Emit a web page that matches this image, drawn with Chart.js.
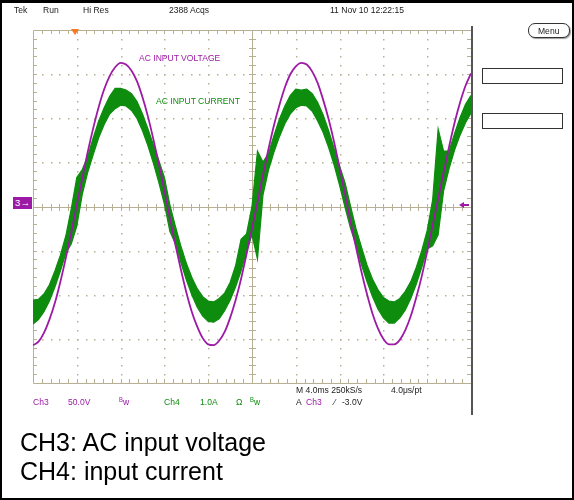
<!DOCTYPE html>
<html><head><meta charset="utf-8">
<script src="https://cdn.jsdelivr.net/npm/chart.js@4"></script>
<style>
html,body{margin:0;padding:0;background:#fff;}
#wrap{position:relative;width:574px;height:500px;overflow:hidden;font-family:"Liberation Sans",Arial,sans-serif;background:#fff;}
canvas{position:absolute;left:0;top:0;}
.t{position:absolute;font-size:9.5px;line-height:10px;white-space:nowrap;color:#1a1a1a;transform:scaleX(0.9);transform-origin:0 0;}
.p{color:#9c1aa6;}
.g{color:#0e8c0e;}
.bw sup{font-size:6.5px;vertical-align:3px;line-height:0;}
.cap{position:absolute;left:20px;font-family:"Liberation Sans",Arial,sans-serif;font-size:25px;line-height:28px;color:#000;white-space:nowrap;}
#frame{position:absolute;left:0;top:0;width:574px;height:500px;box-sizing:border-box;border:2px solid #000;border-top:3px solid #000;pointer-events:none;}
.box{position:absolute;border:1px solid #333;background:#fff;box-sizing:border-box;}
</style></head>
<body>
<div id="wrap">
<canvas id="c" width="574" height="500"></canvas>
<div class="t" style="left:14px;top:5px">Tek</div>
<div class="t" style="left:43px;top:5px">Run</div>
<div class="t" style="left:83px;top:5px">Hi Res</div>
<div class="t" style="left:169px;top:5px">2388 Acqs</div>
<div class="t" style="left:330px;top:5px">11 Nov 10 12:22:15</div>
<div class="box" style="left:528px;top:23px;width:42px;height:15px;border-radius:7px;box-shadow:1px 1px 1px #999;"></div>
<div class="t" style="left:538px;top:26px;">Menu</div>
<div class="box" style="left:482px;top:68px;width:81px;height:16px"></div>
<div class="box" style="left:482px;top:113px;width:81px;height:16px"></div>
<div style="position:absolute;left:71px;top:29px;width:0;height:0;border-left:4px solid transparent;border-right:4px solid transparent;border-top:6px solid #f47a20"></div>
<div style="position:absolute;left:13px;top:197px;width:19px;height:12px;background:#9c1aa6;color:#fff;font-size:9.5px;line-height:12px;text-align:center;font-family:'Liberation Sans',Arial,sans-serif">3&#8594;</div>
<div style="position:absolute;left:459px;top:202px;width:0;height:0;border-top:3px solid transparent;border-bottom:3px solid transparent;border-right:5px solid #9c1aa6"></div>
<div style="position:absolute;left:463px;top:204px;width:6px;height:2px;background:#9c1aa6"></div>
<div style="position:absolute;left:471px;top:26px;width:2px;height:389px;background:#555"></div>
<div class="t p" style="left:139px;top:53px">AC INPUT VOLTAGE</div>
<div class="t g" style="left:156px;top:96px">AC INPUT CURRENT</div>
<div class="t" style="left:296px;top:385px">M 4.0ms 250kS/s</div>
<div class="t" style="left:391px;top:385px">4.0&#956;s/pt</div>
<div class="t p" style="left:33px;top:397px">Ch3</div>
<div class="t p" style="left:68px;top:397px">50.0V</div>
<div class="t p bw" style="left:119px;top:397px"><sup>B</sup>w</div>
<div class="t g" style="left:164px;top:397px">Ch4</div>
<div class="t g" style="left:200px;top:397px">1.0A</div>
<div class="t g" style="left:236px;top:397px">&#937;</div>
<div class="t g bw" style="left:250px;top:397px"><sup>B</sup>w</div>
<div class="t" style="left:296px;top:397px">A</div>
<div class="t p" style="left:306px;top:397px">Ch3</div>
<div class="t" style="left:334px;top:397px">&#8260;</div>
<div class="t" style="left:342px;top:397px">-3.0V</div>
<div class="cap" style="top:428px">CH3: AC input voltage</div>
<div class="cap" style="top:457px">CH4: input current</div>
<div id="frame"></div>
</div>
<script>
// time in ms (4 ms / division, 10 divisions)
const timeMs = [0,0.5,1,1.5,2,2.5,3,3.5,4,4.5,5,5.5,6,6.5,7,7.5,8,8.5,9,9.5,10,10.5,11,11.5,12,12.5,13,13.5,14,14.5,15,15.5,16,16.5,17,17.5,18,18.5,19,19.5,20,20.5,21,21.5,22,22.5,23,23.5,24,24.5,25,25.5,26,26.5,27,27.5,28,28.5,29,29.5,30,30.5,31,31.5,32,32.5,33,33.5,34,34.5,35,35.5,36,36.5,37,37.5,38,38.5,39,39.5,40];
// CH3 AC input voltage (V), 50 V/div
const voltageV = [-160,-156,-146,-131,-112,-88,-61,-32,-1,29,59,86,110,130,145,155,160,158,151,139,121,99,73,45,15,-16,-46,-74,-100,-122,-139,-152,-159,-160,-155,-145,-129,-109,-85,-57,-28,2,33,62,89,112,132,147,156,160,158,150,137,118,96,70,41,11,-20,-49,-77,-102,-124,-141,-153,-159,-159,-154,-143,-127,-106,-82,-54,-24,6,36,65,92,115,134,148];
// CH4 input current (A), 1 A/div: upper and lower edge of the noisy trace
const currentUpperA = [-2.18,-2.16,-2.04,-1.83,-1.52,-1.16,-0.72,-0.10,0.60,0.78,1.08,1.50,1.88,2.18,2.44,2.62,2.62,2.58,2.50,2.32,2.04,1.70,1.34,0.98,0.60,-0.02,-0.50,-0.95,-1.34,-1.66,-1.92,-2.10,-2.20,-2.22,-2.14,-2.02,-1.78,-1.40,-0.80,-0.68,-0.05,1.20,0.95,1.14,1.55,1.92,2.22,2.46,2.60,2.58,2.60,2.50,2.30,2.02,1.66,1.26,0.86,0.48,-0.05,-0.56,-0.98,-1.38,-1.70,-1.94,-2.12,-2.20,-2.22,-2.14,-1.98,-1.76,-1.44,-1.06,-0.60,0.10,1.70,1.20,1.20,1.60,1.96,2.26,2.46];
const currentLowerA = [-2.72,-2.62,-2.44,-2.20,-1.88,-1.52,-1.12,-0.90,-0.50,0.22,0.72,1.12,1.50,1.80,2.04,2.16,2.24,2.22,2.12,1.94,1.66,1.32,0.92,0.48,0.00,-0.62,-0.90,-1.32,-1.72,-2.06,-2.34,-2.54,-2.66,-2.68,-2.60,-2.42,-2.18,-1.88,-1.52,-1.08,-0.70,-1.25,0.20,0.76,1.17,1.52,1.82,2.04,2.18,2.24,2.22,2.10,1.88,1.62,1.28,0.88,0.42,-0.08,-0.55,-0.94,-1.38,-1.76,-2.10,-2.38,-2.58,-2.70,-2.70,-2.58,-2.40,-2.14,-1.82,-1.44,-1.02,-0.95,-0.70,0.30,0.80,1.22,1.56,1.84,2.06];

const PURPLE = '#9c1aa6';
const GREEN = '#0e8c0e';
const GRID = '#b8b095';

const pts = (ys) => timeMs.map((t, i) => ({x: t, y: ys[i]}));

const graticule = {
  id: 'graticule',
  beforeDatasetsDraw(chart) {
    const c = chart.ctx, xs = chart.scales.x, gs = chart.scales.g;
    const L = Math.round(xs.getPixelForValue(0)), R = Math.round(xs.getPixelForValue(40));
    const T = Math.round(gs.getPixelForValue(4)), B = Math.round(gs.getPixelForValue(-4));
    const cx = Math.round(xs.getPixelForValue(20)), cy = Math.round(gs.getPixelForValue(0));
    c.save();
    c.fillStyle = GRID; c.strokeStyle = GRID; c.lineWidth = 1;
    for (let i = 1; i < 10; i++) {
      if (i === 5) continue;
      const x = Math.round(xs.getPixelForValue(i * 4));
      for (let k = 1; k < 40; k++) c.fillRect(x, Math.round(gs.getPixelForValue(-4 + k * 0.2)), 1.5, 1.5);
    }
    for (let j = 1; j < 8; j++) {
      if (j === 4) continue;
      const y = Math.round(gs.getPixelForValue(-4 + j));
      for (let k = 1; k < 50; k++) c.fillRect(Math.round(xs.getPixelForValue(k * 0.8)), y, 1.5, 1.5);
    }
    c.beginPath();
    c.rect(L + 0.5, T + 0.5, R - L, B - T);
    c.moveTo(L, cy + 0.5); c.lineTo(R, cy + 0.5);
    c.moveTo(cx + 0.5, T); c.lineTo(cx + 0.5, B);
    for (let k = 1; k < 50; k++) {
      const x = Math.round(xs.getPixelForValue(k * 0.8)) + 0.5;
      c.moveTo(x, T); c.lineTo(x, T + 4);
      c.moveTo(x, B); c.lineTo(x, B - 4);
      c.moveTo(x, cy - 3); c.lineTo(x, cy + 4);
    }
    for (let k = 1; k < 40; k++) {
      const y = Math.round(gs.getPixelForValue(-4 + k * 0.2)) + 0.5;
      c.moveTo(L, y); c.lineTo(L + 4, y);
      c.moveTo(R, y); c.lineTo(R - 4, y);
      c.moveTo(cx - 3, y); c.lineTo(cx + 4, y);
    }
    c.stroke();
    c.restore();
  }
};

new Chart(document.getElementById('c'), {
  type: 'line',
  data: {
    datasets: [
      {label: 'CH3: AC input voltage', data: pts(voltageV), yAxisID: 'yV', borderColor: PURPLE, borderWidth: 1.8,
       pointRadius: 0, cubicInterpolationMode: 'monotone', fill: false, order: 0},
      {label: 'CH4 upper', data: pts(currentUpperA), yAxisID: 'yI', borderColor: GREEN, borderWidth: 1.2,
       pointRadius: 0, tension: 0, fill: false, order: 1},
      {label: 'CH4 lower', data: pts(currentLowerA), yAxisID: 'yI', borderColor: GREEN, borderWidth: 1.2,
       backgroundColor: GREEN, pointRadius: 0, tension: 0, fill: '-1', order: 1}
    ]
  },
  options: {
    responsive: false, animation: false, devicePixelRatio: 1, events: [],
    layout: {padding: {left: 33, top: 30, right: 103, bottom: 117}},
    plugins: {legend: {display: false}, tooltip: {enabled: false}},
    scales: {
      x: {type: 'linear', axis: 'x', position: 'bottom', min: 0, max: 40, display: false},
      yV: {type: 'linear', axis: 'y', position: 'left', min: -202.83, max: 197.17, display: false},
      yI: {type: 'linear', axis: 'y', position: 'left', min: -4.057, max: 3.943, display: false},
      g: {type: 'linear', axis: 'y', position: 'left', min: -4, max: 4, display: false}
    }
  },
  plugins: [graticule]
});
</script>
</body></html>
